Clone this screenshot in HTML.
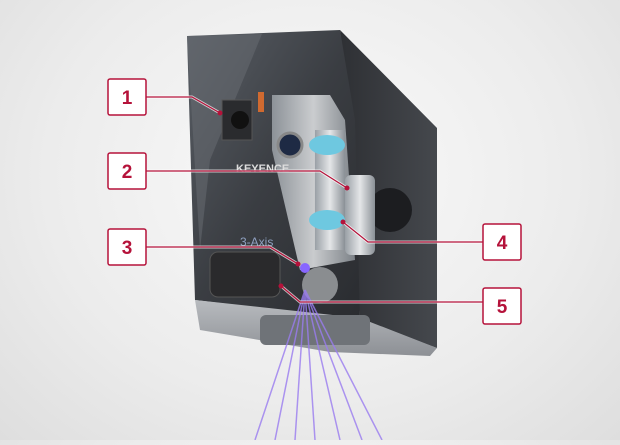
<!DOCTYPE html>
<html><head><style>
html,body{margin:0;padding:0;}
body{width:620px;height:440px;overflow:hidden;background:radial-gradient(ellipse at 50% 40%,#fafafa 0%,#ececec 60%,#dedede 100%);font-family:"Liberation Sans",sans-serif;}
</style></head><body>
<svg width="620" height="440" viewBox="0 0 620 440" xmlns="http://www.w3.org/2000/svg">
<defs>
<linearGradient id="front" x1="0" y1="0" x2="1" y2="1">
<stop offset="0" stop-color="#5a5f66"/><stop offset="0.5" stop-color="#3a3d42"/><stop offset="1" stop-color="#2a2c30"/></linearGradient>
<linearGradient id="side" x1="0" y1="0" x2="1" y2="0">
<stop offset="0" stop-color="#2e3034"/><stop offset="1" stop-color="#45484d"/></linearGradient>
<linearGradient id="bot" x1="0" y1="0" x2="0" y2="1">
<stop offset="0" stop-color="#b8bbbf"/><stop offset="1" stop-color="#8d9095"/></linearGradient>
<linearGradient id="metal" x1="0" y1="0" x2="1" y2="0">
<stop offset="0" stop-color="#9aa0a6"/><stop offset="0.5" stop-color="#e4e6e8"/><stop offset="1" stop-color="#8a9096"/></linearGradient>
</defs>
<polygon points="340,30 437,128 437,348 360,320 350,120" fill="url(#side)"/>
<polygon points="187,36 340,30 355,120 360,320 195,300" fill="url(#front)"/>
<polygon points="187,36 262,34 210,160 200,250" fill="#6a6e74" opacity="0.5"/>
<polygon points="195,300 360,318 437,348 430,356 330,352 200,330" fill="url(#bot)"/>
<rect x="260" y="315" width="110" height="30" rx="6" fill="#6f7378"/>
<circle cx="390" cy="210" r="22" fill="#1c1d20"/>
<polygon points="272,95 330,95 345,120 355,260 300,270 272,150" fill="url(#metal)" opacity="0.85"/>
<rect x="315" y="130" width="30" height="120" fill="url(#metal)"/>
<ellipse cx="327" cy="145" rx="18" ry="10" fill="#6ec8e0"/>
<ellipse cx="327" cy="220" rx="18" ry="10" fill="#6ec8e0"/>
<rect x="345" y="175" width="30" height="80" rx="6" fill="url(#metal)"/>
<circle cx="290" cy="145" r="12" fill="#1e2a44" stroke="#888" stroke-width="3"/>
<rect x="222" y="100" width="30" height="40" fill="#2a2b2e" stroke="#555"/>
<circle cx="240" cy="120" r="9" fill="#111"/>
<rect x="258" y="92" width="6" height="20" fill="#d06a30"/>
<rect x="210" y="252" width="70" height="45" rx="8" fill="#2a2a2c" stroke="#555"/>
<circle cx="320" cy="285" r="18" fill="#8a8d90"/>
<circle cx="305" cy="268" r="5" fill="#8866ff"/>
<text x="236" y="172" font-size="11" fill="#ddd" font-weight="bold">KEYENCE</text>
<text x="240" y="246" font-size="12" fill="#8fa0c0">3-Axis</text>
<g stroke="#9a7cf0" stroke-width="1.5" opacity="0.8">
<line x1="305" y1="290" x2="255" y2="440"/><line x1="305" y1="290" x2="275" y2="440"/>
<line x1="305" y1="290" x2="295" y2="440"/><line x1="305" y1="290" x2="315" y2="440"/>
<line x1="305" y1="290" x2="340" y2="440"/><line x1="305" y1="290" x2="362" y2="440"/>
<line x1="305" y1="290" x2="382" y2="440"/>
</g>
<g stroke="#ffffff" stroke-width="3" fill="none" opacity="0.7">
<polyline points="146,97 192,97 220,113"/>
<polyline points="146,171 320,171 347,188"/>
<polyline points="146,247 270,247 298,264"/>
<polyline points="483,242 368,242 343,222"/>
<polyline points="483,302 300,302 281,286"/>
</g>
<g stroke="#b5123a" stroke-width="1.2" fill="none">
<polyline points="146,97 192,97 220,113"/>
<polyline points="146,171 320,171 347,188"/>
<polyline points="146,247 270,247 298,264"/>
<polyline points="483,242 368,242 343,222"/>
<polyline points="483,302 300,302 281,286"/>
</g>
<g fill="#b5123a">
<circle cx="220" cy="113" r="2.5"/><circle cx="347" cy="188" r="2.5"/><circle cx="298" cy="264" r="2.5"/>
<circle cx="343" cy="222" r="2.5"/><circle cx="281" cy="286" r="2.5"/>
</g>
<g fill="#fff" stroke="#b5123a" stroke-width="1.5">
<rect x="108" y="79" width="38" height="36" rx="2"/>
<rect x="108" y="153" width="38" height="36" rx="2"/>
<rect x="108" y="229" width="38" height="36" rx="2"/>
<rect x="483" y="224" width="38" height="36" rx="2"/>
<rect x="483" y="288" width="38" height="36" rx="2"/>
</g>
<g fill="#b5123a" font-size="19" font-weight="bold" text-anchor="middle">
<text x="127" y="104">1</text><text x="127" y="178">2</text><text x="127" y="254">3</text>
<text x="502" y="249">4</text><text x="502" y="313">5</text>
</g>
</svg>
</body></html>
